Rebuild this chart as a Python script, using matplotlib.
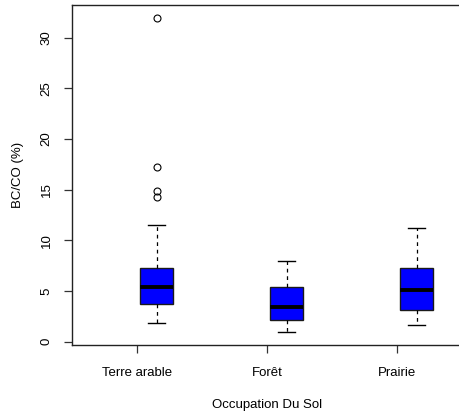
import matplotlib
matplotlib.use('Agg')
import matplotlib.pyplot as plt
import numpy as np

# Box statistics
categories = ['Terre arable', 'Forêt', 'Prairie']
whis_low = [1.87, 0.98, 1.67]
q1 = [3.72, 2.16, 3.15]
median = [5.36, 3.41, 5.14]
q3 = [7.28, 5.38, 7.28]
whis_high = [11.55, 7.93, 11.2]
outliers = [[14.3, 14.85, 17.2, 32.0], [], []]

plt.rcParams['font.family'] = ['Liberation Sans', 'DejaVu Sans']

fig = plt.figure(figsize=(4.59, 4.11), dpi=100)
ax = fig.add_axes([72 / 459, 1 - 345 / 411, (462 - 72) / 459, 340 / 411])

stats = []
for i in range(len(categories)):
    stats.append(dict(med=median[i], q1=q1[i], q3=q3[i],
                      whislo=whis_low[i], whishi=whis_high[i],
                      fliers=outliers[i], label=categories[i]))

# boxes sit a little to the right of the axis ticks, as in the original
pos = np.arange(1, len(categories) + 1)
ax.bxp(stats, positions=pos + 0.15, widths=0.25, patch_artist=True,
       showfliers=True, manage_ticks=False,
       boxprops=dict(facecolor='#0000ff', edgecolor='#1a1a1a', linewidth=1.0),
       medianprops=dict(color='black', linewidth=2.8, solid_capstyle='butt'),
       whiskerprops=dict(color='black', linewidth=0.9, linestyle=(0, (3, 3))),
       capprops=dict(color='black', linewidth=1.0),
       capwidths=0.125,
       flierprops=dict(marker='o', markerfacecolor='none', markeredgecolor='black',
                       markersize=5.0, markeredgewidth=0.8))

ax.set_xlim(0.5, 3.5)
ax.set_ylim(-0.34, 33.24)

ax.set_xticks(pos)
ax.set_xticklabels(categories)
ax.set_yticks(np.arange(0, 31, 5))
ax.set_yticklabels([str(v) for v in range(0, 31, 5)], rotation=90, va='center')

ax.tick_params(axis='both', length=6, width=0.9, color='#333333', labelsize=9.5)
ax.tick_params(axis='x', pad=10)
ax.tick_params(axis='y', pad=8)
for s in ax.spines.values():
    s.set_linewidth(1.0)
    s.set_color('#222222')

ax.set_xlabel('Occupation Du Sol', fontsize=9.5, labelpad=14)
ax.set_ylabel('BC/CO (%)', fontsize=9.5, labelpad=12)

fig.savefig('out.png', dpi=100)
